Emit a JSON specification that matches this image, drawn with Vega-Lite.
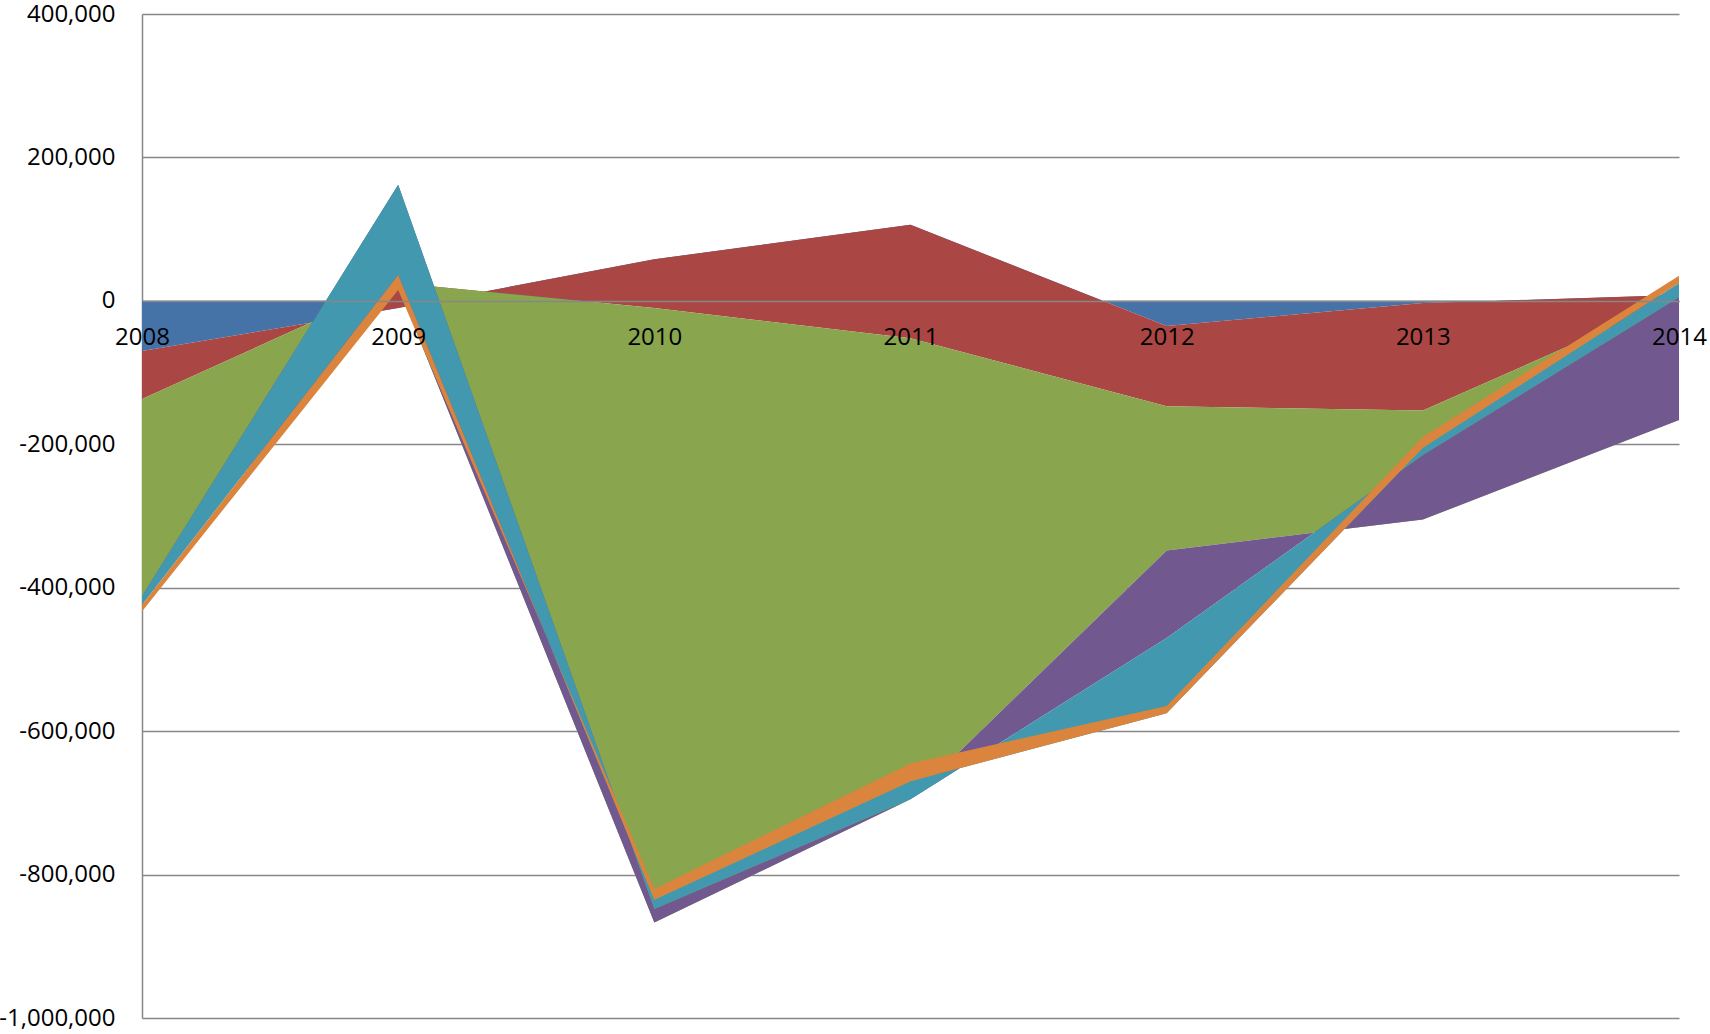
{
  "$schema": "https://vega.github.io/schema/vega-lite/v6.json",
  "width": 1537,
  "height": 1004,
  "padding": {"left": 142, "top": 14, "right": 31, "bottom": 16},
  "autosize": {"type": "none"},
  "background": "white",
  "config": {"view": {"stroke": null}},
  "data": {
    "values": [
      {"year": 2008, "series": "Series1", "k": 1, "value": -70000},
      {"year": 2009, "series": "Series1", "k": 1, "value": -10000},
      {"year": 2010, "series": "Series1", "k": 1, "value": 58000},
      {"year": 2011, "series": "Series1", "k": 1, "value": 106000},
      {"year": 2012, "series": "Series1", "k": 1, "value": -35000},
      {"year": 2013, "series": "Series1", "k": 1, "value": -3000},
      {"year": 2014, "series": "Series1", "k": 1, "value": 8000},
      {"year": 2008, "series": "Series2", "k": 2, "value": -67000},
      {"year": 2009, "series": "Series2", "k": 2, "value": 35000},
      {"year": 2010, "series": "Series2", "k": 2, "value": -68000},
      {"year": 2011, "series": "Series2", "k": 2, "value": -158000},
      {"year": 2012, "series": "Series2", "k": 2, "value": -112000},
      {"year": 2013, "series": "Series2", "k": 2, "value": -150000},
      {"year": 2014, "series": "Series2", "k": 2, "value": -3000},
      {"year": 2008, "series": "Series3", "k": 3, "value": -275000},
      {"year": 2009, "series": "Series3", "k": 3, "value": -5000},
      {"year": 2010, "series": "Series3", "k": 3, "value": -857000},
      {"year": 2011, "series": "Series3", "k": 3, "value": -643000},
      {"year": 2012, "series": "Series3", "k": 3, "value": -201000},
      {"year": 2013, "series": "Series3", "k": 3, "value": -152000},
      {"year": 2014, "series": "Series3", "k": 3, "value": -171000},
      {"year": 2008, "series": "Series4", "k": 4, "value": 0},
      {"year": 2009, "series": "Series4", "k": 4, "value": 142000},
      {"year": 2010, "series": "Series4", "k": 4, "value": 19000},
      {"year": 2011, "series": "Series4", "k": 4, "value": 0},
      {"year": 2012, "series": "Series4", "k": 4, "value": -122000},
      {"year": 2013, "series": "Series4", "k": 4, "value": 90000},
      {"year": 2014, "series": "Series4", "k": 4, "value": 171000},
      {"year": 2008, "series": "Series5", "k": 5, "value": -12000},
      {"year": 2009, "series": "Series5", "k": 5, "value": -126000},
      {"year": 2010, "series": "Series5", "k": 5, "value": 13000},
      {"year": 2011, "series": "Series5", "k": 5, "value": 25000},
      {"year": 2012, "series": "Series5", "k": 5, "value": -105000},
      {"year": 2013, "series": "Series5", "k": 5, "value": 10000},
      {"year": 2014, "series": "Series5", "k": 5, "value": 20000},
      {"year": 2008, "series": "Series6", "k": 6, "value": -9000},
      {"year": 2009, "series": "Series6", "k": 6, "value": -21000},
      {"year": 2010, "series": "Series6", "k": 6, "value": 15000},
      {"year": 2011, "series": "Series6", "k": 6, "value": 25000},
      {"year": 2012, "series": "Series6", "k": 6, "value": 10000},
      {"year": 2013, "series": "Series6", "k": 6, "value": 15000},
      {"year": 2014, "series": "Series6", "k": 6, "value": 10000}
    ]
  },
  "transform": [
    {"window": [{"op": "sum", "field": "value", "as": "top"}], "groupby": ["year"], "sort": [{"field": "k", "order": "ascending"}]},
    {"calculate": "datum.top - datum.value", "as": "base"}
  ],
  "layer": [
    {
      "transform": [{"filter": "datum.k == 1"}],
      "mark": {"type": "area", "color": "#4572A7"},
      "encoding": {
        "x": {"field": "year", "type": "quantitative", "scale": {"domain": [2008, 2014], "nice": false, "zero": false},
          "axis": {"values": [2008, 2009, 2010, 2011, 2012, 2013, 2014], "format": "d", "labelFontSize": 24, "labelColor": "black", "labelFont": "Open Sans", "labelFlush": false, "ticks": false, "domain": true, "domainColor": "#878787", "domainWidth": 1.5, "grid": false, "offset": -717, "labelPadding": 24, "title": null, "zindex": 1}},
        "y": {"field": "top", "type": "quantitative", "scale": {"domain": [-1000000, 400000], "nice": false, "zero": false},
          "axis": {"values": [-1000000, -800000, -600000, -400000, -200000, 0, 200000, 400000], "labelExpr": "replace(format(datum.value, ',.0f'), '\u2212', '-')", "labelFontSize": 24, "labelColor": "black", "labelFont": "Open Sans", "ticks": false, "domain": true, "domainColor": "#878787", "domainWidth": 1.5, "grid": true, "gridColor": "#878787", "gridWidth": 1.5, "labelPadding": 27, "title": null}},
        "y2": {"field": "base"}
      }
    },
    {
      "transform": [{"filter": "datum.k == 2"}],
      "mark": {"type": "area", "color": "#AA4643"},
      "encoding": {"x": {"field": "year", "type": "quantitative"}, "y": {"field": "top", "type": "quantitative"}, "y2": {"field": "base"}}
    },
    {
      "transform": [{"filter": "datum.k == 3"}],
      "mark": {"type": "area", "color": "#89A54E"},
      "encoding": {"x": {"field": "year", "type": "quantitative"}, "y": {"field": "top", "type": "quantitative"}, "y2": {"field": "base"}}
    },
    {
      "transform": [{"filter": "datum.k == 4"}],
      "mark": {"type": "area", "color": "#71588F"},
      "encoding": {"x": {"field": "year", "type": "quantitative"}, "y": {"field": "top", "type": "quantitative"}, "y2": {"field": "base"}}
    },
    {
      "transform": [{"filter": "datum.k == 5"}],
      "mark": {"type": "area", "color": "#4198AF"},
      "encoding": {"x": {"field": "year", "type": "quantitative"}, "y": {"field": "top", "type": "quantitative"}, "y2": {"field": "base"}}
    },
    {
      "transform": [{"filter": "datum.k == 6"}],
      "mark": {"type": "area", "color": "#DB843D"},
      "encoding": {"x": {"field": "year", "type": "quantitative"}, "y": {"field": "top", "type": "quantitative"}, "y2": {"field": "base"}}
    }
  ]
}
